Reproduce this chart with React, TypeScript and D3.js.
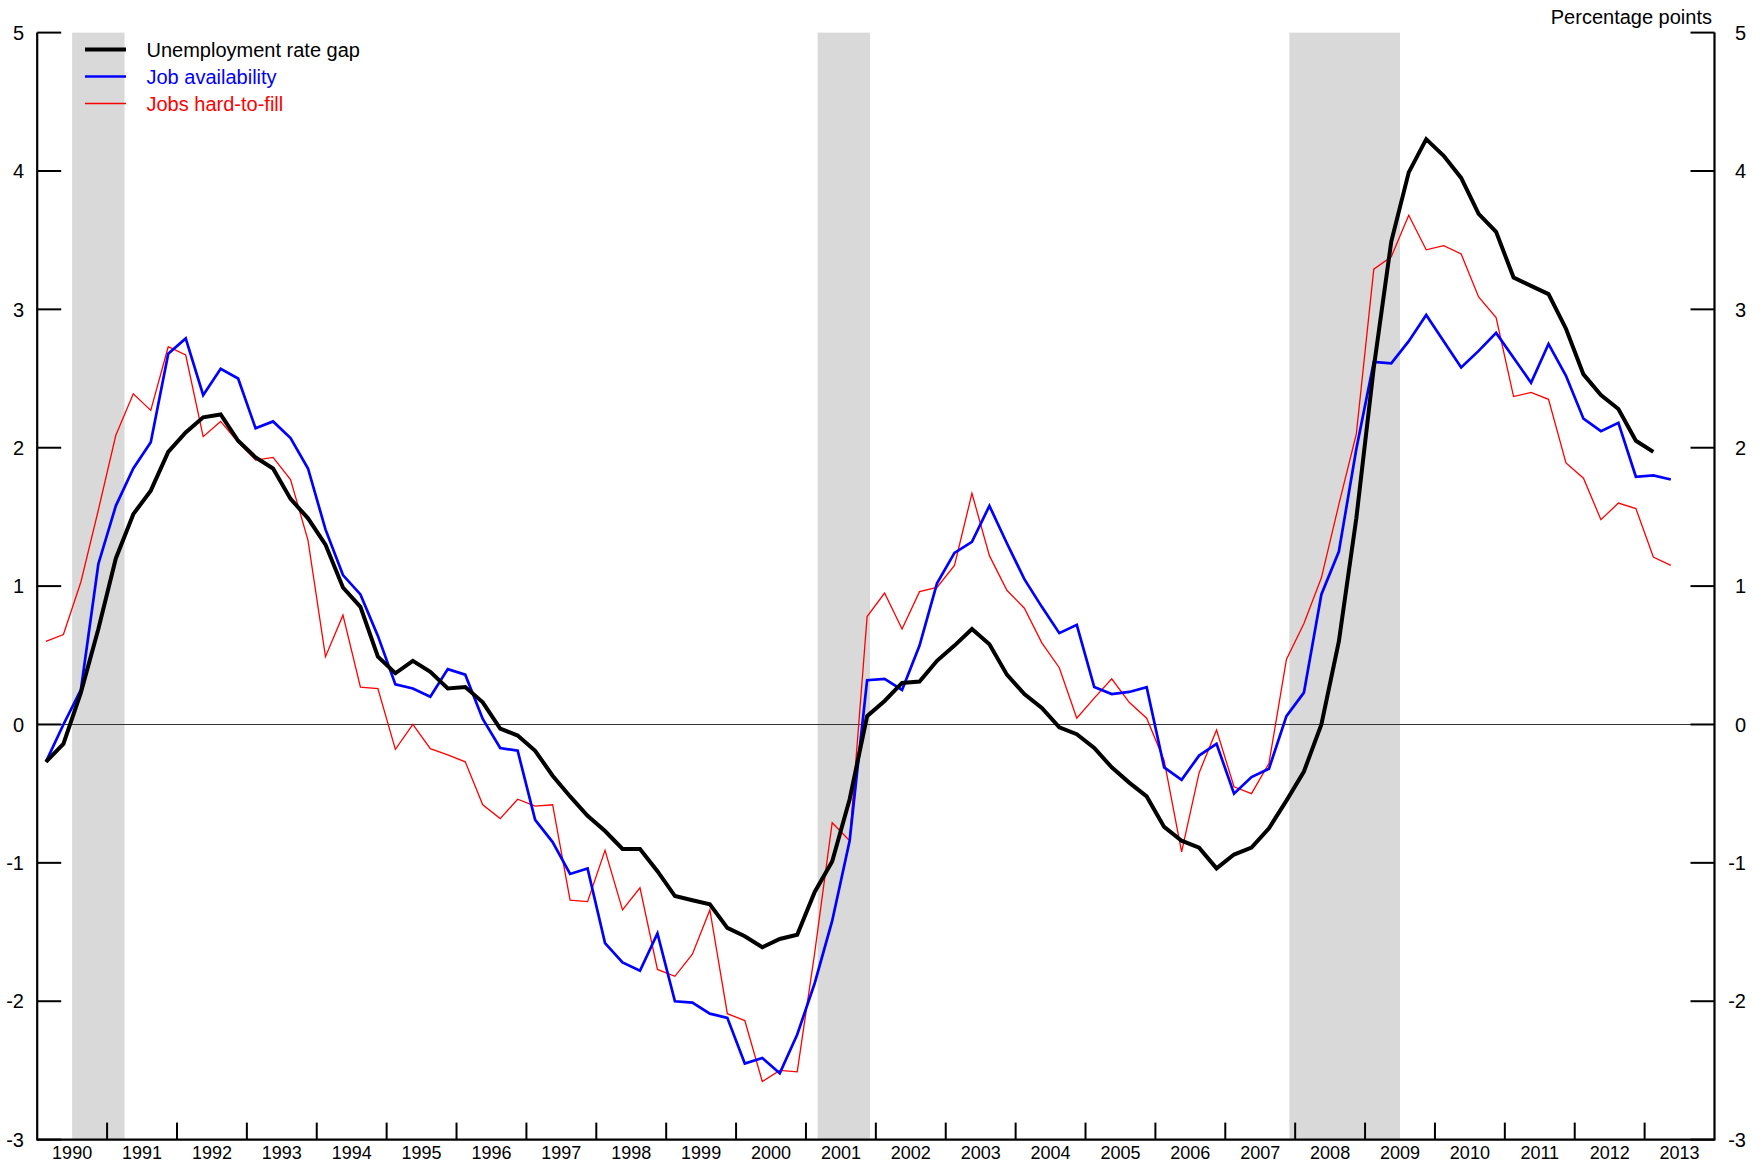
import React from "react";
import * as d3 from "d3";

const START_YEAR = 1990;
const END_YEAR = 2014;

const unemploymentGap = [
  -0.27, -0.14, 0.23, 0.69, 1.2, 1.52, 1.69, 1.97, 2.11, 2.22, 2.24, 2.05, 1.93, 1.85, 1.63, 1.49,
  1.3, 0.99, 0.85, 0.49, 0.37, 0.46, 0.38, 0.26, 0.27, 0.16, -0.03, -0.08, -0.19, -0.37, -0.52, -0.66,
  -0.77, -0.9, -0.9, -1.06, -1.24, -1.27, -1.3, -1.47, -1.53, -1.61, -1.55, -1.52, -1.21, -0.99, -0.54, 0.06,
  0.17, 0.3, 0.31, 0.46, 0.57, 0.69, 0.58, 0.36, 0.22, 0.12, -0.02, -0.07, -0.17, -0.31, -0.42, -0.52,
  -0.74, -0.84, -0.89, -1.04, -0.94, -0.89, -0.75, -0.55, -0.34, 0.0, 0.6, 1.49, 2.58, 3.49, 3.99, 4.23,
  4.11, 3.95, 3.69, 3.56, 3.23, 3.17, 3.11, 2.86, 2.53, 2.38, 2.28, 2.05, 1.97,
];

const jobAvailability = [
  -0.27, 0.0, 0.25, 1.16, 1.58, 1.85, 2.04, 2.68, 2.79, 2.38, 2.57, 2.5, 2.14, 2.19, 2.07, 1.85,
  1.41, 1.08, 0.94, 0.64, 0.29, 0.26, 0.2, 0.4, 0.36, 0.04, -0.17, -0.19, -0.69, -0.85, -1.08, -1.04,
  -1.58, -1.72, -1.78, -1.51, -2.0, -2.01, -2.09, -2.12, -2.45, -2.41, -2.52, -2.24, -1.87, -1.42, -0.84, 0.32,
  0.33, 0.25, 0.57, 1.02, 1.24, 1.32, 1.58, 1.31, 1.05, 0.85, 0.66, 0.72, 0.27, 0.22, 0.235, 0.27,
  -0.31, -0.4, -0.225, -0.14, -0.5, -0.38, -0.32, 0.06, 0.23, 0.94, 1.25, 1.99, 2.62, 2.61, 2.77, 2.96,
  2.77, 2.58, 2.7, 2.83, 2.65, 2.47, 2.75, 2.52, 2.21, 2.12, 2.18, 1.79, 1.8, 1.77,
];

const jobsHardToFill = [
  0.6, 0.65, 1.03, 1.55, 2.09, 2.39, 2.27, 2.73, 2.67, 2.08, 2.19, 2.04, 1.91, 1.93, 1.77, 1.33,
  0.49, 0.79, 0.27, 0.26, -0.18, 0.0, -0.175, -0.22, -0.27, -0.58, -0.68, -0.54, -0.59, -0.58, -1.27, -1.28,
  -0.91, -1.34, -1.18, -1.77, -1.82, -1.66, -1.34, -2.09, -2.14, -2.58, -2.5, -2.51, -1.65, -0.71, -0.84, 0.78,
  0.95, 0.69, 0.96, 0.99, 1.15, 1.67, 1.22, 0.97, 0.84, 0.59, 0.41, 0.045, 0.19, 0.33, 0.16, 0.045,
  -0.26, -0.92, -0.35, -0.04, -0.45, -0.5, -0.28, 0.47, 0.73, 1.06, 1.59, 2.1, 3.29, 3.38, 3.68, 3.43,
  3.46, 3.4, 3.09, 2.94, 2.37, 2.4, 2.35, 1.89, 1.78, 1.48, 1.6, 1.56, 1.21, 1.15,
];

const recessions: [number, number][] = [
  [1990.5, 1991.25],
  [2001.167, 2001.917],
  [2007.917, 2009.5],
];

const yTicks = [-3, -2, -1, 0, 1, 2, 3, 4, 5];
const yearLabels = d3.range(START_YEAR, END_YEAR);

const seriesDefs = [
  { name: "Unemployment rate gap", values: unemploymentGap, color: "#000000", width: 4, textColor: "#000000" },
  { name: "Job availability", values: jobAvailability, color: "#0000ff", width: 2.7, textColor: "#0000ff" },
  { name: "Jobs hard-to-fill", values: jobsHardToFill, color: "#ff0000", width: 1.3, textColor: "#ff0000" },
];

const W = 1764;
const H = 1167;
const LEFT = 37.2;
const RIGHT = 1714.5;
const TOP = 32.6;
const BOTTOM = 1139.6;
const FONT = "'Liberation Sans', Arial, Helvetica, sans-serif";

export default function App() {
  const x = d3.scaleLinear().domain([START_YEAR, END_YEAR]).range([LEFT, RIGHT]);
  const y = d3.scaleLinear().domain([-3, 5]).range([BOTTOM, TOP]);
  const qDate = (i: number) => START_YEAR + i * 0.25 + 0.125;
  const line = d3
    .line<number>()
    .x((_, i) => x(qDate(i)))
    .y((d) => y(d));

  const yTickLen = 24;
  const xTickLen = 17;

  return (
    <svg
      width={W}
      height={H}
      style={{ position: "absolute", left: 0, top: 0, background: "#fff" }}
      fontFamily={FONT}
    >
      <rect x={0} y={0} width={W} height={H} fill="#fff" />
      {recessions.map(([a, b], i) => (
        <rect key={i} x={x(a)} y={TOP} width={x(b) - x(a)} height={BOTTOM - TOP} fill="#d9d9d9" />
      ))}
      {/* zero line */}
      <line x1={LEFT} x2={RIGHT} y1={y(0)} y2={y(0)} stroke="#333" strokeWidth={1.2} />

      {/* series */}
      {seriesDefs
        .slice()
        .reverse()
        .map((s) => (
          <path
            key={s.name}
            d={line(s.values) || ""}
            fill="none"
            stroke={s.color}
            strokeWidth={s.width}
            strokeLinejoin="miter"
          />
        ))}

      {/* axes */}
      <line x1={LEFT} x2={LEFT} y1={TOP} y2={BOTTOM + 1} stroke="#000" strokeWidth={2.2} />
      <line x1={RIGHT} x2={RIGHT} y1={TOP} y2={BOTTOM + 1} stroke="#000" strokeWidth={2.2} />
      <line x1={LEFT} x2={RIGHT} y1={BOTTOM} y2={BOTTOM} stroke="#000" strokeWidth={2.2} />

      {yTicks.map((t) => (
        <g key={t}>
          <line x1={LEFT} x2={LEFT + yTickLen} y1={y(t)} y2={y(t)} stroke="#000" strokeWidth={2} />
          <line x1={RIGHT - yTickLen} x2={RIGHT} y1={y(t)} y2={y(t)} stroke="#000" strokeWidth={2} />
          <text x={24} y={y(t)} dy="0.36em" textAnchor="end" fontSize={20} fill="#000">
            {t}
          </text>
          <text x={1746} y={y(t)} dy="0.36em" textAnchor="end" fontSize={20} fill="#000">
            {t}
          </text>
        </g>
      ))}

      {d3.range(START_YEAR + 1, END_YEAR).map((yr) => (
        <line key={yr} x1={x(yr)} x2={x(yr)} y1={BOTTOM} y2={BOTTOM - xTickLen} stroke="#000" strokeWidth={2} />
      ))}
      {yearLabels.map((yr) => (
        <text key={yr} x={x(yr + 0.5)} y={1159} textAnchor="middle" fontSize={18} fill="#000">
          {yr}
        </text>
      ))}

      <text x={1712} y={24} textAnchor="end" fontSize={20} fill="#000">
        Percentage points
      </text>

      {/* legend */}
      {seriesDefs.map((s, i) => {
        const ly = 49.5 + i * 27;
        return (
          <g key={s.name}>
            <line x1={85} x2={126} y1={ly} y2={ly} stroke={s.color} strokeWidth={s.width} />
            <text x={146.5} y={ly} dy="0.36em" fontSize={20} fill={s.textColor}>
              {s.name}
            </text>
          </g>
        );
      })}
    </svg>
  );
}
